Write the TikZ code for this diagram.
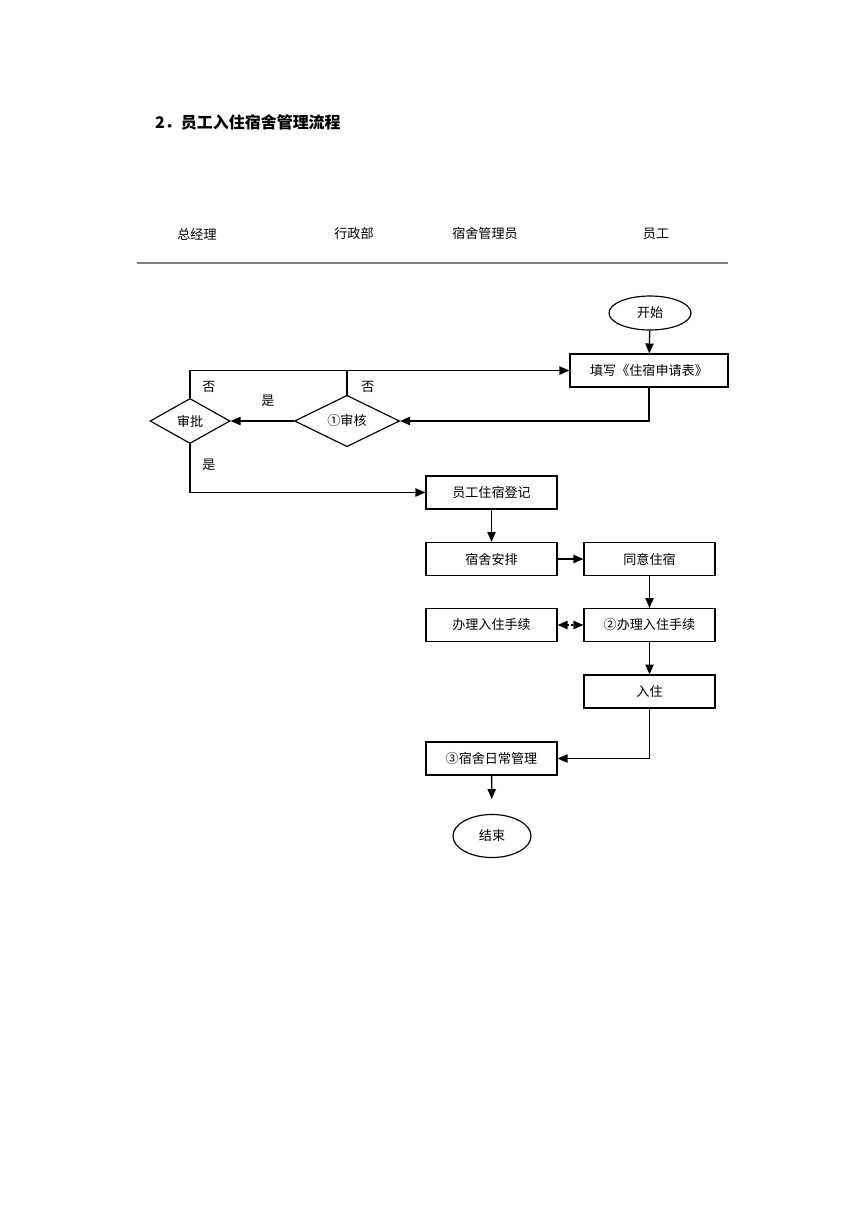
\documentclass[tikz,border=0pt]{standalone}
\usepackage{fontspec}
\setmainfont{Noto Sans CJK SC}
\usetikzlibrary{positioning,shapes.geometric,arrows.meta}

\begin{document}
\begin{tikzpicture}[x=0.02419cm, y=-0.02419cm,
    font=\fontsize{9}{11}\selectfont,
    box/.style={draw, line width=0.8pt, minimum width=3.169cm, minimum height=0.798cm, inner sep=1pt},
    decision/.style={draw, diamond, line width=0.8pt, inner sep=0pt, minimum width=#1, minimum height=1.089cm},
    terminal/.style={draw, ellipse, line width=0.8pt, inner sep=0pt},
    flow/.style={line width=0.9pt, -{Triangle[length=2.4mm, width=2mm]}},
    lane/.style={font=\fontsize{9}{11}\selectfont}]
  \useasboundingbox (0,0) rectangle (868,1228);

  % Title
  \node[anchor=west, font=\fontsize{11}{13}\selectfont\bfseries] (title) at (150,122) {2．员工入住宿舍管理流程};

  % Lane headers
  \node[lane] (gm) at (197,234) {总经理};
  \node[lane] (admin) at (354,234) {行政部};
  \node[lane] (dorm) at (485,234) {宿舍管理员};
  \node[lane] (staff) at (656,234) {员工};
  \draw[gray, line width=1.3pt] (137,263) -- (728,263);

  % Start and application
  \node[terminal, minimum width=1.984cm, minimum height=0.822cm] (start) at (650,313) {开始};
  \node[box, minimum width=3.822cm] (apply) at (649,370.5) {填写《住宿申请表》};

  % Review and approval
  \node[decision=2.54cm] (check) at (347,421) {①审核};
  \node[decision=1.935cm] (approve) at (190,421) {审批};

  % Dormitory steps
  \node[box] (register) at (491.5,492.5) {员工住宿登记};
  \node[box] (arrange) at (491.5,559) {宿舍安排};
  \node[box] (agree) at (649.5,559) {同意住宿};
  \node[box] (proc1) at (491.5,625) {办理入住手续};
  \node[box] (proc2) at (649.5,625) {②办理入住手续};
  \node[box] (stay) at (649.5,691.5) {入住};
  \node[box] (manage) at (491.5,758.5) {③宿舍日常管理};
  \node[terminal, minimum width=1.887cm, minimum height=1.04cm] (finish) at (492,836) {结束};

  % Branch labels
  \node (no1) at (209,387) {否};
  \node (yes1) at (268,401) {是};
  \node (no2) at (368,387) {否};
  \node (yes2) at (209,465) {是};

  % Connectors
  \draw[flow] (start) -- (apply);
  \draw[flow] (apply.south) |- (check.east);
  \draw[flow] (check.west) -- (approve.east);
  \draw[flow] (approve.north) |- (apply.west);
  \draw[line width=0.9pt] (check.north) -- (check.north |- apply.west);
  \draw[flow] (approve.south) |- (register.west);
  \draw[flow] (register) -- (arrange);
  \draw[flow] (arrange) -- (agree);
  \draw[flow] (agree) -- (proc2);
  \draw[line width=0.9pt, dotted, {Triangle[length=2.4mm, width=2mm]}-{Triangle[length=2.4mm, width=2mm]}] (proc1) -- (proc2);
  \draw[flow] (proc2) -- (stay);
  \draw[flow] (stay.south) |- (manage.east);
  \draw[flow, shorten >=0.36cm] (manage) -- (finish);
\end{tikzpicture}
\end{document}
